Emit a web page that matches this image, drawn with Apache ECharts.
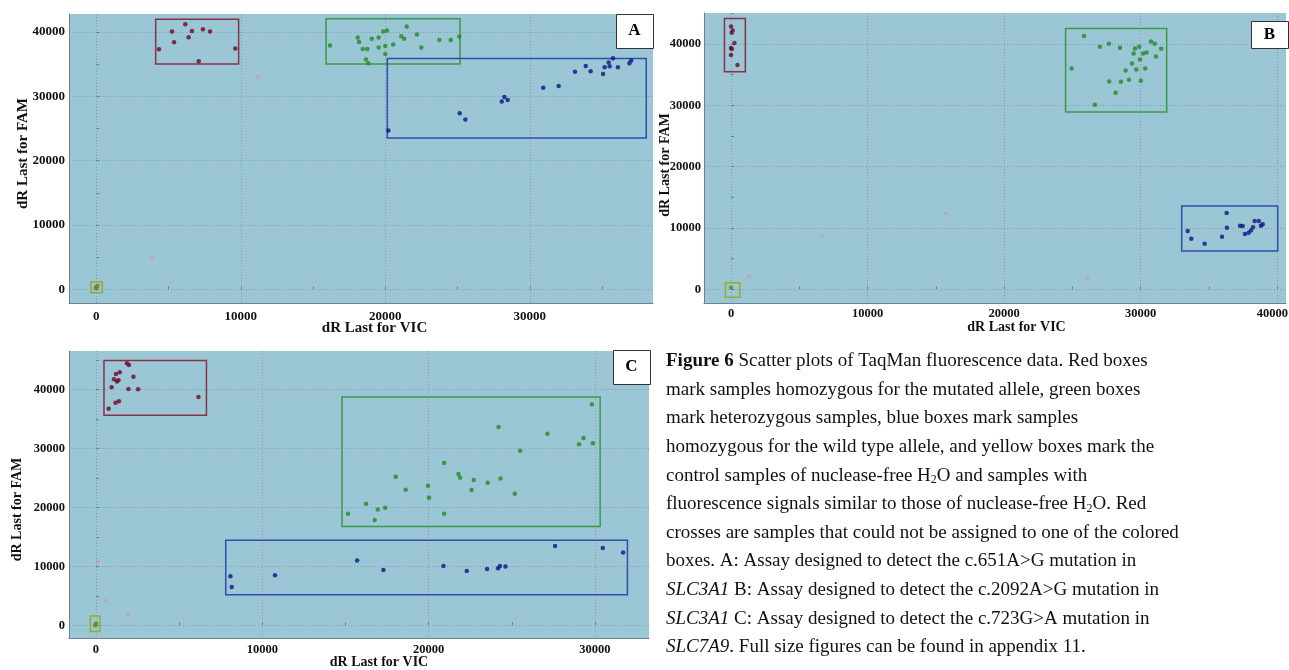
<!DOCTYPE html>
<html>
<head>
<meta charset="utf-8">
<script src="https://cdn.jsdelivr.net/npm/echarts@6/dist/echarts.min.js"></script>
<style>
html,body{margin:0;padding:0;background:#fff;}
#chart{width:1289px;height:670px;}
</style>
</head>
<body>
<div id="chart"></div>
<script>
// ---------- Panel A data (dR Last for VIC, dR Last for FAM) ----------
var panelA_mutant = [[4340,37330],[5240,40060],[5380,38410],[6160,41210],[6390,39190],[6620,40170],[7090,35460],[7380,40430],[7870,40060],[9620,37420]];
var panelA_het = [[16170,37890],[18090,39130],[18180,38460],[18440,37370],[18750,37370],[18660,35710],[18820,35150],[19060,38930],[19540,39130],[19540,37570],[19860,40060],[20120,40220],[20000,37840],[20000,36590],[20550,38040],[21110,39350],[21310,38930],[21480,40840],[22190,39600],[22490,37570],[23740,38770],[24530,38770],[25120,39280]];
var panelA_wild = [[20210,24670],[25150,27370],[25540,26380],[28060,29180],[28240,29910],[28470,29440],[30930,31350],[32000,31620],[33130,33800],[33870,34730],[34210,33900],[35070,33480],[35180,34530],[35460,35240],[35530,34680],[35760,35920],[36100,34530],[36890,35150],[37020,35560]];
var panelA_ntc = [[0,300],[80,550],[-40,200]];
var panelA_unassigned = [[11170,33020],[3850,4760]];
var boxA_mutant = [4110,35040,9850,41990];
var boxA_het = [15900,35040,25170,42040];
var boxA_wild = [20140,23530,38060,35860];
var boxA_ntc = [-370,-530,415,1180];

// ---------- Panel B data ----------
var panelB_mutant = [[0,42870],[125,42220],[50,41840],[250,40160],[0,39350],[60,39190],[0,38200],[470,36580]];
var panelB_het = [[25840,41300],[24940,36020],[27010,39560],[27670,40050],[28480,39400],[27690,33900],[28550,33850],[28160,32060],[26640,30100],[28890,35700],[29140,34180],[29360,36840],[29480,38470],[29580,39280],[29670,35860],[29890,39560],[29940,37490],[30010,34020],[30180,38470],[30430,38630],[30330,36020],[30750,40420],[31020,40050],[31110,37980],[31500,39230]];
var panelB_wild = [[33440,9520],[33700,8260],[34680,7450],[35950,8590],[36290,12450],[36310,10060],[37270,10380],[37460,10330],[37630,9030],[37900,9240],[38070,9620],[38220,10110],[38340,11150],[38640,11150],[38800,10380],[38930,10600]];
var panelB_ntc = [[0,300]];
var panelB_unassigned = [[1320,2070],[6720,8800],[15680,12390],[26080,1860]];
var boxB_mutant = [-480,35480,1050,44170];
var boxB_het = [24500,28920,31900,42540];
var boxB_wild = [33000,6260,40030,13590];
var boxB_ntc = [-410,-1300,640,1090];

// ---------- Panel C data ----------
var panelC_mutant = [[760,36720],[940,40360],[1080,41710],[1170,37740],[1200,42610],[1260,41310],[1350,41540],[1380,37980],[1430,42900],[1860,44430],[1980,44140],[1950,40070],[2250,42110],[2530,40020],[6160,38710]];
var panelC_het = [[15150,18900],[16240,20600],[16760,17830],[16940,19640],[17380,19920],[18020,25180],[18620,22970],[19960,23650],[20020,21610],[20930,27500],[20930,18900],[21790,25640],[21890,25010],[22580,22920],[22710,24620],[23550,24160],[24200,33620],[24320,24900],[25180,22290],[25500,29590],[27140,32480],[29040,30680],[29310,31750],[29810,37470],[29870,30850]];
var panelC_wild = [[8080,8320],[8160,6500],[10760,8490],[15700,10980],[17280,9390],[20890,10070],[22290,9220],[23510,9560],[24170,9680],[24290,10070],[24620,9970],[27600,13460],[30470,13120],[31690,12340]];
var panelC_ntc = [[0,300],[-60,0]];
var panelC_unassigned = [[100,10870],[580,4130],[1950,1820]];
var boxC_mutant = [480,35600,6640,44870];
var boxC_het = [14790,16760,30310,38710];
var boxC_wild = [7800,5180,31950,14430];
var boxC_ntc = [-340,-1070,240,1580];

// ---------- tick labels ----------
var xTicksA = [0,10000,20000,30000];
var xTicksB = [0,10000,20000,30000,40000];
var xTicksC = [0,10000,20000,30000];
var yTicks = [0,10000,20000,30000,40000];
var minorStep = 5000;

var xTitle = 'dR Last for VIC';
var yTitle = 'dR Last for FAM';
var panelLabels = ['A','B','C'];

var SERIF = '"Liberation Serif","DejaVu Serif",serif';
var COL = {
  bg:'#9bc6d5', axis:'#6f8088', grid:'#7d9ea9',
  mutant:'#6e0820', mutantBox:'#8a3048',
  het:'#228a26', hetBox:'#3b9a45',
  wild:'#0a1585', wildBox:'#2e4fa8',
  ntc:'#6f8a18', ntcBox:'#93ad2a',
  cross:'#e48aa0'
};

function stepsIn(min, max, step){
  var out=[]; for(var v=Math.ceil(min/step)*step; v<=max; v+=step) out.push(v); return out;
}

var panels = [
  {grid:{left:69,top:14,width:584,height:289}, x:[-1889,38526], y:[-2130,42795], xl:xTicksA,
   d:[panelA_mutant,panelA_het,panelA_wild,panelA_ntc,panelA_unassigned], b:[boxA_mutant,boxA_het,boxA_wild,boxA_ntc],
   fs:15, lfs:13, xGap:18, xPad:[0,0,0,27], yGap:38, yPad:[0,0,0,10], xMargin:7, yMargin:4, edgeLabel:null},
  {grid:{left:704,top:13,width:582,height:290}, x:[-1978,40637], y:[-2217,45053], xl:xTicksB,
   d:[panelB_mutant,panelB_het,panelB_wild,panelB_ntc,panelB_unassigned], b:[boxB_mutant,boxB_het,boxB_wild,boxB_ntc],
   fs:14, lfs:12.5, xGap:17, xPad:[0,0,0,43], yGap:32, yPad:[0,14,0,0], xMargin:4, yMargin:3, edgeLabel:40000},
  {grid:{left:69,top:351,width:580,height:287}, x:[-1623,33247], y:[-2155,46495], xl:xTicksC,
   d:[panelC_mutant,panelC_het,panelC_wild,panelC_ntc,panelC_unassigned], b:[boxC_mutant,boxC_het,boxC_wild,boxC_ntc],
   fs:14, lfs:12.5, xGap:17, xPad:[0,0,0,40], yGap:45, yPad:[0,30,0,0], xMargin:5, yMargin:4, edgeLabel:null}
];

var grids=[], xAxes=[], yAxes=[], series=[];
var dotColors=[COL.mutant,COL.het,COL.wild,COL.ntc];
var boxColors=[COL.mutantBox,COL.hetBox,COL.wildBox,COL.ntcBox];
var crossPath='path://M4,0H6V4H10V6H6V10H4V6H0V4H4Z';
function plain(v){ return String(v); }

panels.forEach(function(p,i){
  grids.push(Object.assign({show:true, backgroundColor:COL.bg, borderWidth:0, containLabel:false, outerBoundsMode:'none'}, p.grid));
  var lbl = {color:'#111', fontFamily:SERIF, fontWeight:'bold', fontSize:p.lfs, formatter:plain};
  var xl = Object.assign({}, lbl);
  if (p.edgeLabel !== null) {
    xl.formatter = function(v){ return v === p.edgeLabel ? '{e|' + v + '}' : String(v); };
    xl.rich = {e:{color:'#111', fontFamily:SERIF, fontWeight:'bold', fontSize:p.lfs, padding:[0,10,0,0]}};
  }
  xAxes.push({type:'value', gridIndex:i, min:p.x[0], max:p.x[1], position:'bottom',
    name:xTitle, nameLocation:'middle', nameGap:p.xGap, nameMoveOverlap:false,
    nameTextStyle:{color:'#111', fontFamily:SERIF, fontWeight:'bold', fontSize:p.fs, padding:p.xPad, verticalAlign:'top'},
    axisLine:{show:true, onZero:false, lineStyle:{color:COL.axis, width:1}},
    axisTick:{show:false, customValues:p.xl},
    axisLabel:Object.assign({customValues:p.xl, margin:p.xMargin, showMinLabel:true, showMaxLabel:true, hideOverlap:false}, xl),
    splitLine:{show:true, lineStyle:{color:COL.grid, type:[1,2], width:1}}
  });
  xAxes.push({type:'value', gridIndex:i, min:p.x[0], max:p.x[1], position:'bottom',
    axisLine:{show:false}, axisLabel:{show:false}, splitLine:{show:false},
    axisTick:{show:true, inside:true, length:3, customValues:stepsIn(p.x[0],p.x[1],minorStep), lineStyle:{color:COL.axis}}
  });
  yAxes.push({type:'value', gridIndex:i, min:p.y[0], max:p.y[1], position:'left',
    name:yTitle, nameLocation:'middle', nameGap:p.yGap, nameMoveOverlap:false,
    nameTextStyle:{color:'#111', fontFamily:SERIF, fontWeight:'bold', fontSize:p.fs, padding:p.yPad},
    axisLine:{show:true, onZero:false, lineStyle:{color:COL.axis, width:1}},
    axisTick:{show:false, customValues:yTicks},
    axisLabel:Object.assign({customValues:yTicks, margin:p.yMargin, hideOverlap:false}, lbl),
    splitLine:{show:true, lineStyle:{color:COL.grid, type:[1,2], width:1}}
  });
  yAxes.push({type:'value', gridIndex:i, min:p.y[0], max:p.y[1], position:'left',
    axisLine:{show:false}, axisLabel:{show:false}, splitLine:{show:false},
    axisTick:{show:true, inside:true, length:3, customValues:stepsIn(p.y[0],p.y[1],minorStep), lineStyle:{color:COL.axis}}
  });
  var xi=i*2, yi=i*2;
  for(var k=0;k<4;k++){
    var bx=p.b[k];
    series.push({type:'scatter', xAxisIndex:xi, yAxisIndex:yi, data:p.d[k], symbol:'circle', symbolSize:4.5,
      itemStyle:{color:dotColors[k]}, silent:true, z:5,
      markArea:{silent:true, itemStyle:{color:'rgba(0,0,0,0)', borderColor:boxColors[k], borderWidth:1.5},
        data:[[{coord:[bx[0],bx[1]]},{coord:[bx[2],bx[3]]}]]}
    });
  }
  series.push({type:'scatter', xAxisIndex:xi, yAxisIndex:yi, data:p.d[4], symbol:crossPath, symbolSize:5, symbolRotate:45,
    itemStyle:{color:COL.cross}, silent:true, z:5});
});

var captionLines = [
  '{b|Figure 6} Scatter plots of TaqMan fluorescence data. Red boxes',
  'mark samples homozygous for the mutated allele, green boxes',
  'mark heterozygous samples, blue boxes mark samples',
  'homozygous for the wild type allele, and yellow boxes mark the',
  'control samples of nuclease-free H{s|2}O and samples with',
  'fluorescence signals similar to those of nuclease-free H{s|2}O. Red',
  'crosses are samples that could not be assigned to one of the colored',
  'boxes. A: Assay designed to detect the c.651A>G mutation in',
  '{i|SLC3A1} B: Assay designed to detect the c.2092A>G mutation in',
  '{i|SLC3A1} C: Assay designed to detect the c.723G>A mutation in',
  '{i|SLC7A9}. Full size figures can be found in appendix 11.'
];

var labelBoxes = [[616,14,37,34],[1251,21,37,27],[613,350,37,34]];
var graphics = [];
labelBoxes.forEach(function(r,i){
  graphics.push({type:'rect', left:r[0], top:r[1], shape:{width:r[2], height:r[3]}, style:{fill:'#fff', stroke:'#333', lineWidth:1}, z:100});
  graphics.push({type:'text', x:r[0]+r[2]/2, y:r[1]+r[3]/2, style:{text:panelLabels[i], fill:'#000', font:'bold 17px '+SERIF, textAlign:'center', textVerticalAlign:'middle'}, z:101});
});
var capFont = 19;
graphics.push({type:'text', left:666, top:347, z:100,
  style:{text:captionLines.join('\n'), fill:'#111', fontFamily:SERIF, fontSize:capFont, lineHeight:28.6,
    rich:{
      b:{fontFamily:SERIF, fontSize:capFont, fontWeight:'bold', lineHeight:28.6, fill:'#111'},
      i:{fontFamily:SERIF, fontSize:capFont, fontStyle:'italic', lineHeight:28.6, fill:'#111'},
      s:{fontFamily:SERIF, fontSize:12, padding:[9,0,0,0], lineHeight:28.6, fill:'#111'}
    }}
});

var chart = echarts.init(document.getElementById('chart'), null, {renderer:'canvas'});
chart.setOption({
  backgroundColor:'#fff',
  animation:false,
  grid:grids, xAxis:xAxes, yAxis:yAxes, series:series,
  graphic:graphics
});
</script>
</body>
</html>
